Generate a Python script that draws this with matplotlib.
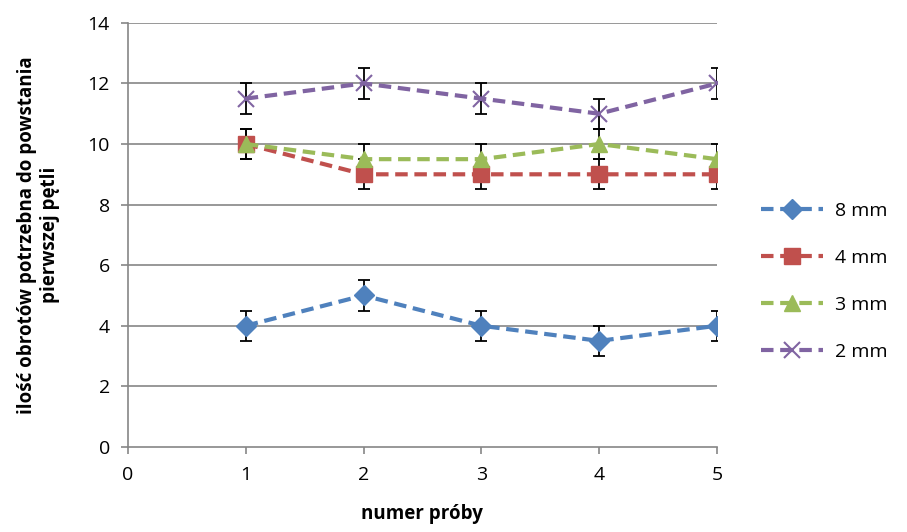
import matplotlib
matplotlib.use("Agg")
import matplotlib.pyplot as plt

plt.rcParams['font.family'] = ['Open Sans', 'DejaVu Sans']

x = [1, 2, 3, 4, 5]
series_names = ["8 mm", "4 mm", "3 mm", "2 mm"]
y_8mm = [4, 5, 4, 3.5, 4]
y_4mm = [10, 9, 9, 9, 9]
y_3mm = [10, 9.5, 9.5, 10, 9.5]
y_2mm = [11.5, 12, 11.5, 11, 12]
err = [0.5, 0.5, 0.5, 0.5, 0.5]

colors = ["#4F81BD", "#C0504D", "#9BBB59", "#8064A2"]
markers = ["D", "s", "^", "x"]
msizes = [10, 12, 12, 12]
data = [y_8mm, y_4mm, y_3mm, y_2mm]

fig = plt.figure(figsize=(9.07, 5.32), dpi=100)
ax = fig.add_axes([0.141, 0.160, 0.6495, 0.797])

for yi in range(2, 15, 2):
    ax.axhline(yi, color="#868686", lw=1.2, zorder=0)

for name, ys, c, m, ms in zip(series_names, data, colors, markers, msizes):
    ax.errorbar(x, ys, yerr=err, fmt='none', ecolor='black', elinewidth=1.3,
                capsize=4, capthick=1.3, zorder=2)
    kw = dict(markeredgewidth=1.5) if m == 'x' else dict(markeredgecolor=c)
    ax.plot(x, ys, linestyle=(0, (3, 1.6)), color=c, lw=3, marker=m,
            markersize=ms, markerfacecolor=c, label=name, zorder=3, **kw)

ax.set_xlim(0, 5)
ax.set_ylim(0, 14)
ax.set_xticks(range(0, 6))
ax.set_yticks(range(0, 15, 2))
ax.tick_params(axis='both', direction='out', length=5, color='#868686',
               labelsize=14, width=1.2)
ax.tick_params(axis='x', pad=9)
ax.tick_params(axis='y', pad=8)
for s in ['top', 'right']:
    ax.spines[s].set_visible(False)
for s in ['left', 'bottom']:
    ax.spines[s].set_color('#868686')
    ax.spines[s].set_linewidth(1.2)

ax.set_xlabel("numer próby", fontsize=13.5, fontweight='bold', labelpad=14)
ax.set_ylabel("ilość obrotów potrzebna do powstania\npierwszej pętli",
              fontsize=13.5, fontweight='bold', labelpad=20, linespacing=1.2)

leg = ax.legend(loc='center left', bbox_to_anchor=(1.045, 0.39), frameon=False,
                fontsize=14, handlelength=3.2, handletextpad=0.6, labelspacing=1.5)

fig.savefig("out.png", dpi=100)
